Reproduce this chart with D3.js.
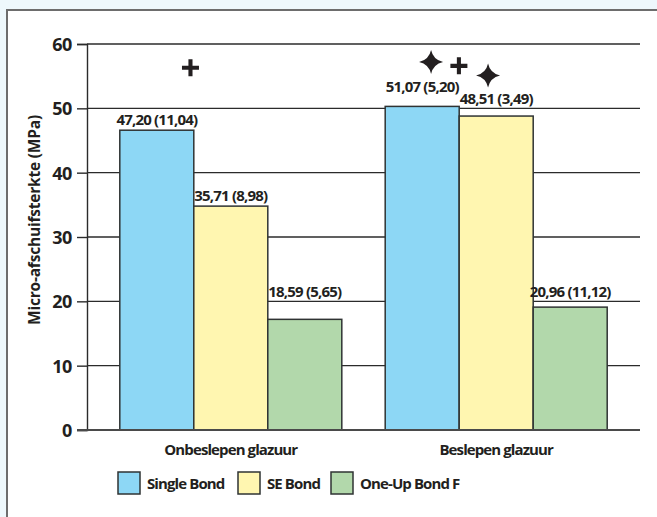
<!DOCTYPE html>
<html>
<head>
<meta charset="utf-8">
<script src="https://cdn.jsdelivr.net/npm/d3@7"></script>
<style>
  html, body { margin: 0; padding: 0; background: #eef8fc; }
  svg { display: block; }
  text { font-family: "Open Sans", "Noto Sans", sans-serif; fill: #231f20; }
</style>
</head>
<body>
<svg id="chart" width="657" height="517"></svg>
<script>
// ---- data ----
const categories = ["Onbeslepen glazuur", "Beslepen glazuur"];
const seriesNames = ["Single Bond", "SE Bond", "One-Up Bond F"];
const seriesColors = ["#8dd7f5", "#fff6b0", "#b2d8ab"];
// bar heights as drawn in the picture (MPa)
const singleBond = [46.6, 50.3];
const seBond = [34.8, 48.8];
const oneUpBondF = [17.2, 19.1];
// value labels as printed
const singleBondLabels = ["47,20 (11,04)", "51,07 (5,20)"];
const seBondLabels = ["35,71 (8,98)", "48,51 (3,49)"];
const oneUpBondFLabels = ["18,59 (5,65)", "20,96 (11,12)"];
// label baseline heights (MPa)
const singleBondLabelAt = [47.4, 52.6];
const seBondLabelAt = [35.6, 50.7];
const oneUpBondFLabelAt = [20.7, 20.7];
const yTicks = [0, 10, 20, 30, 40, 50, 60];
const yTitle = "Micro-afschuifsterkte (MPa)";
// significance markers: group index, position within group (bar widths), level (MPa), symbol
const markerGroup = [0, 1, 1, 1];
const markerPos = [0.955, 0.62, 0.996, 1.39];
const markerLevel = [56.3, 57.2, 56.6, 55.1];
const markerType = ["plus", "star", "plus", "star"];

const seriesValues = [singleBond, seBond, oneUpBondF];
const seriesLabels = [singleBondLabels, seBondLabels, oneUpBondFLabels];
const seriesLabelAt = [singleBondLabelAt, seBondLabelAt, oneUpBondFLabelAt];

// ---- layout ----
const svg = d3.select("#chart");
const W = 657, H = 517;
const mLeft = 87, mRight = 640, mTop = 44, mBottom = 430;

// panel frame
svg.append("rect").attr("x", 7).attr("y", 10).attr("width", W + 20).attr("height", H + 20)
  .attr("fill", "#ffffff").attr("stroke", "#6d6d6d").attr("stroke-width", 2);

const y = d3.scaleLinear().domain([0, 60]).range([mBottom, mTop]);
const x0 = d3.scaleBand().domain(categories).range([mLeft, mRight])
  .paddingInner(0.1635).paddingOuter(0.1236);
const x1 = d3.scaleBand().domain(seriesNames).range([0, x0.bandwidth()]).padding(0);

// gridlines
svg.append("g").selectAll("line").data(yTicks.filter(d => d > 0)).join("line")
  .attr("x1", mLeft).attr("x2", mRight)
  .attr("y1", d => y(d)).attr("y2", d => y(d))
  .attr("stroke", "#2b2b2b").attr("stroke-width", 1.4);

// y axis
const yAxis = d3.axisLeft(y).tickValues(yTicks).tickSize(10).tickPadding(5).tickFormat(d3.format("d"));
const gy = svg.append("g").attr("transform", `translate(${mLeft},0)`).call(yAxis);
gy.select(".domain").attr("stroke", "#2b2b2b").attr("stroke-width", 1.4);
gy.selectAll(".tick line").attr("stroke", "#2b2b2b").attr("stroke-width", 1.4);
gy.selectAll(".tick text").attr("font-size", 18).attr("font-weight", 700)
  .attr("font-family", "'Open Sans', sans-serif").attr("fill", "#231f20").attr("dy", "0.36em")
  .attr("letter-spacing", -0.4);

// y title
svg.append("text").attr("transform", `translate(40,220) rotate(-90)`)
  .attr("text-anchor", "middle").attr("font-size", 15.5).attr("font-weight", 700)
  .attr("letter-spacing", -0.2)
  .text(yTitle);

// bars
const groups = svg.append("g").selectAll("g").data(categories).join("g")
  .attr("transform", d => `translate(${x0(d)},0)`);
groups.selectAll("rect").data((c, gi) => seriesNames.map((s, si) => ({ s, si, v: seriesValues[si][gi] })))
  .join("rect")
  .attr("x", d => x1(d.s)).attr("width", x1.bandwidth())
  .attr("y", d => y(d.v)).attr("height", d => y(0) - y(d.v))
  .attr("fill", d => seriesColors[d.si])
  .attr("stroke", "#2f3333").attr("stroke-width", 1.5);

// value labels
groups.selectAll("text.val").data((c, gi) => seriesNames.map((s, si) => ({ s, si, t: seriesLabels[si][gi], at: seriesLabelAt[si][gi] })))
  .join("text").attr("class", "val")
  .attr("x", d => x1(d.s) + x1.bandwidth() / 2)
  .attr("y", d => y(d.at))
  .attr("text-anchor", "middle").attr("font-size", 15).attr("font-weight", 700)
  .attr("letter-spacing", -0.8)
  .text(d => d.t);

// zero baseline
svg.append("line").attr("x1", mLeft - 10).attr("x2", mRight).attr("y1", y(0)).attr("y2", y(0))
  .attr("stroke", "#4a4a4a").attr("stroke-width", 2);

// x category labels
svg.append("g").selectAll("text").data(categories).join("text")
  .attr("x", d => x0(d) + x0.bandwidth() / 2).attr("y", 455)
  .attr("text-anchor", "middle").attr("font-size", 15).attr("font-weight", 700)
  .attr("letter-spacing", -0.9)
  .text(d => d);

// markers
function starPath(r) {
  const k = r * 0.18;
  return `M0,${-r} Q${k},${-k} ${r},0 Q${k},${k} 0,${r} Q${-k},${k} ${-r},0 Q${-k},${-k} 0,${-r}Z`;
}
function plusPath(r) {
  const t = r * 0.24;
  return `M${-t},${-r}H${t}V${-t}H${r}V${t}H${t}V${r}H${-t}V${t}H${-r}V${-t}H${-t}Z`;
}
svg.append("g").selectAll("path").data(markerType.map((t, i) => ({ t, i }))).join("path")
  .attr("transform", d => `translate(${x0(categories[markerGroup[d.i]]) + markerPos[d.i] * x1.bandwidth()},${y(markerLevel[d.i])})`)
  .attr("d", d => d.t === "star" ? starPath(12) : plusPath(8.5))
  .attr("fill", "#231f20");

// legend
const lg = svg.append("g").attr("transform", "translate(118,472)");
const legendX = [0, 120, 213];
const items = lg.selectAll("g").data(seriesNames).join("g")
  .attr("transform", (d, i) => `translate(${legendX[i]},0)`);
items.append("rect").attr("width", 22).attr("height", 22)
  .attr("fill", (d, i) => seriesColors[i]).attr("stroke", "#2f3333").attr("stroke-width", 1.5);
items.append("text").attr("x", 29).attr("y", 16.5)
  .attr("font-size", 15).attr("font-weight", 700).attr("letter-spacing", -0.9)
  .text(d => d);
</script>
</body>
</html>
